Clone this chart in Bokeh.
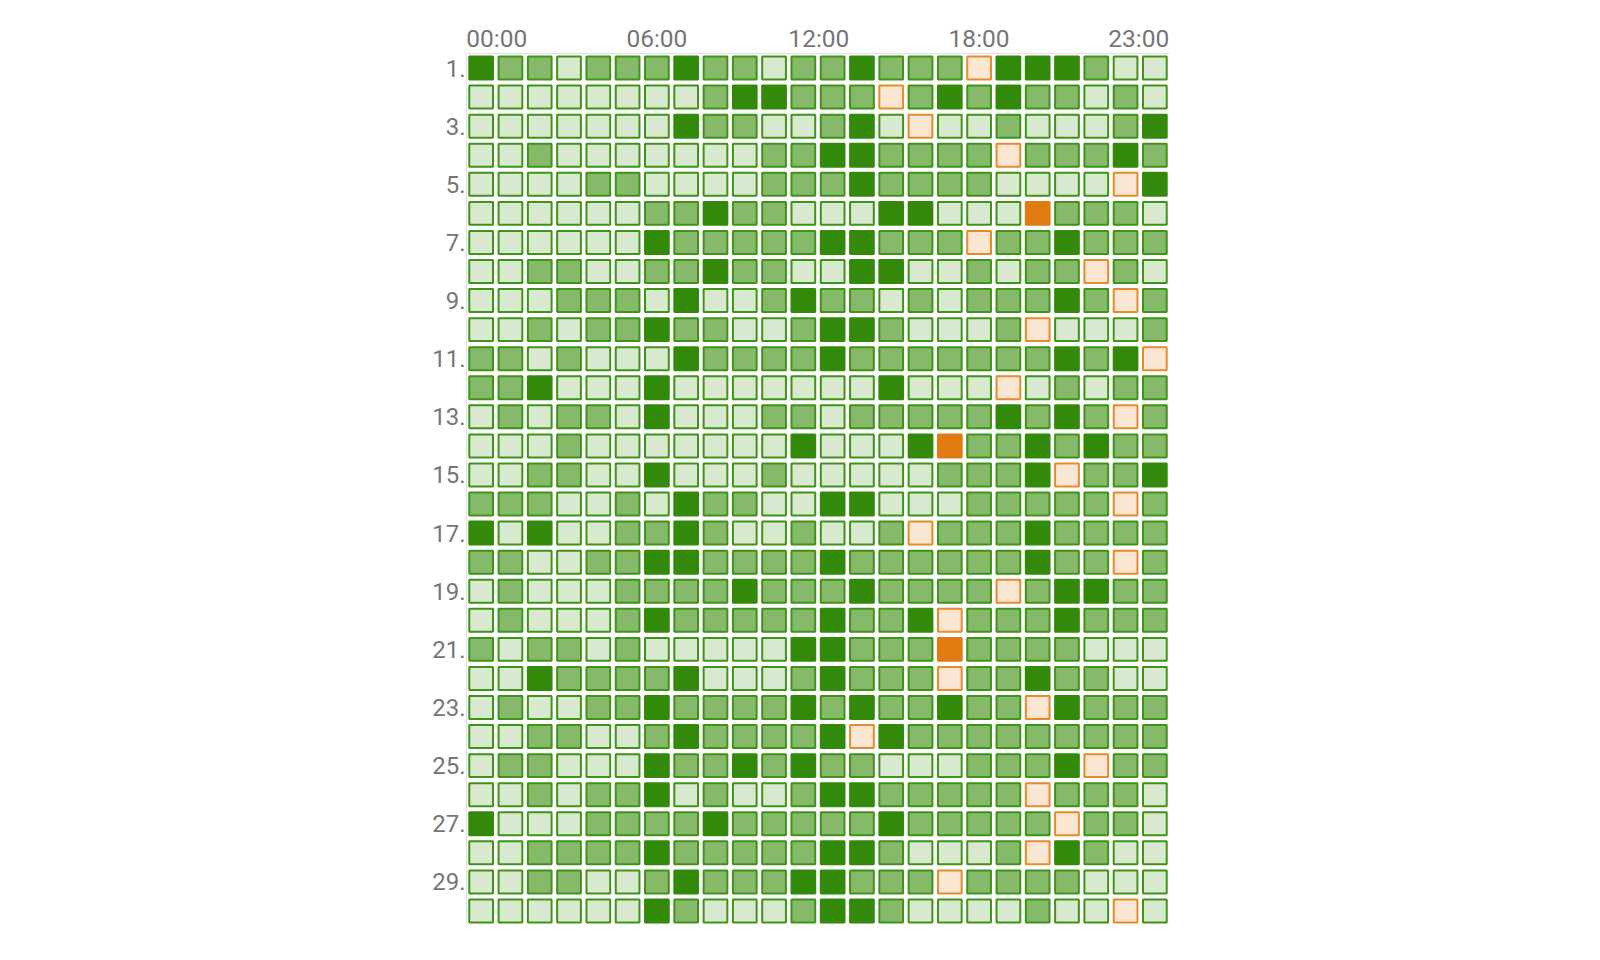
from bokeh.plotting import figure
from bokeh.models import ColumnDataSource, Range1d, FixedTicker
from bokeh.embed import file_html
from bokeh.resources import INLINE

# ---- data ----
hours = list(range(24))
days = list(range(1, 31))
x_tick_labels = ["00:00", "06:00", "12:00", "18:00", "23:00"]
x_tick_pos = [1.03, 6.5, 12.03, 17.5, 22.95]
y_tick_days = list(range(1, 30, 2))

# L = light green, M = medium green, D = dark green, O = light orange, X = dark orange
day_rows = [
    "DMMLMMMDMMLMMDMMMODDDMLL",  # 1
    "LLLLLLLLMDDMMMOMDMDMMLML",  # 2
    "LLLLLLLDMMLLMDLOLLMLLLMD",  # 3
    "LLMLLLLLLLMMDDMMMMOMMMDM",  # 4
    "LLLLMMLLLLMMMDMMMMLLLLOD",  # 5
    "LLLLLLMMDMMLLLDDLLLXMMML",  # 6
    "LLLLLLDMMMMMDDMMMOMMDMMM",  # 7
    "LLMMLLMMDMMLLDDLLMLMMOML",  # 8
    "LLLMMMLDLLMDMMLMLMMMDMOM",  # 9
    "LLMLMMDMMLLMDDMLLLMOLLLM",  # 10
    "MMLMLLLDMMMMDMMMMMMMDMDO",  # 11
    "MMDLLLDLLLLLLLDLLLOLMLMM",  # 12
    "LMLMMLDLLLMMLMMMMMDMDMOM",  # 13
    "LLLMLLLLLLLDLLLDXMMDMDMM",  # 14
    "LLMMLLDLLLMLLLLLMMMDOMMD",  # 15
    "MMMLLMLDMMLLDDLLLMMMMMOM",  # 16
    "DLDLLMMDMLLMLLMOMMMDMMMM",  # 17
    "MMLLMMDDMMMMDMMMMMMDMMOM",  # 18
    "LMLLLMMMMDMMMDMMMMOMDDMM",  # 19
    "LMLLLMDMMMMMDMMDOMMMDMMM",  # 20
    "MLMMLMLLLLLDDMMMXMMMMLLL",  # 21
    "LLDMMMMDLLLMDMMMOMMDMMLL",  # 22
    "LMLLMMDMMMMDMDMMDMMODMMM",  # 23
    "LLMMLLMDMMMMDODMMMMMMMMM",  # 24
    "LMMLLLDMMDMDMMLLLMMMDOMM",  # 25
    "LLMLMMDLMLLMDDMMMMMOMMML",  # 26
    "DLLLMMMMDMMMMMDMMMMMOMML",  # 27
    "LLMMMMDMMMMMDDMLLLMODMLL",  # 28
    "LLMMLLMDMMMDDMMMOMMMMLLL",  # 29
    "LLLLLLDMLLLMDDMLLLLMLLOL",  # 30
]

fill_colors = {"L": "#d9e9cf", "M": "#86b96a", "D": "#338a0a", "O": "#f9e6d3", "X": "#e07b12"}
line_colors = {"L": "#3d9416", "M": "#3d9416", "D": "#338a0a", "O": "#e8892a", "X": "#e07b12"}

xs, ys, fills, lines = [], [], [], []
for d, row in zip(days, day_rows):
    for h, code in zip(hours, row):
        xs.append(h + 0.5)
        ys.append(d - 0.5)
        fills.append(fill_colors[code])
        lines.append(line_colors[code])

src = ColumnDataSource(dict(x=xs, y=ys, fill=fills, line=lines))

p = figure(
    frame_width=703, frame_height=872,
    x_range=Range1d(0, 24), y_range=Range1d(30, 0),
    x_axis_location="above",
    output_backend="svg", toolbar_location=None,
    min_border_left=466, min_border_top=53, min_border_right=10, min_border_bottom=10,
    background_fill_color="white", border_fill_color="white",
)
p.outline_line_color = None
p.xgrid.visible = False
p.ygrid.visible = False

p.rect(x="x", y="y", width=0.81, height=0.79, source=src,
       fill_color="fill", line_color="line", line_width=2)

label_color = "#767676"
for ax in (p.xaxis[0], p.yaxis[0]):
    ax.axis_line_color = "#e3e3e3"
    ax.axis_line_width = 1
    ax.major_tick_line_color = None
    ax.minor_tick_line_color = None
    ax.major_label_text_font = "Roboto"
    ax.major_label_text_color = label_color

p.xaxis[0].major_label_text_font_size = "24.5px"
p.yaxis[0].major_label_text_font_size = "24px"

p.xaxis[0].ticker = FixedTicker(ticks=x_tick_pos)
p.xaxis[0].major_label_overrides = {t: s for t, s in zip(x_tick_pos, x_tick_labels)}
p.xaxis[0].major_label_standoff = -5

y_tick_pos = [d - 0.5 for d in y_tick_days]
p.yaxis[0].ticker = FixedTicker(ticks=y_tick_pos)
p.yaxis[0].major_label_overrides = {t: f"{d}." for t, d in zip(y_tick_pos, y_tick_days)}
p.yaxis[0].major_label_standoff = -5

open("out.html", "w").write(file_html(p, INLINE))
